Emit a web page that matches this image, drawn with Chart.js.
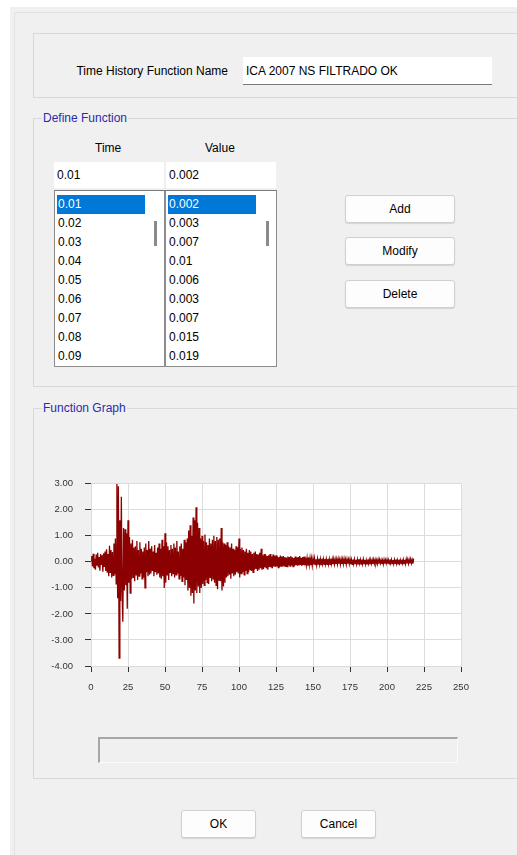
<!DOCTYPE html>
<html>
<head>
<meta charset="utf-8">
<script src="https://cdn.jsdelivr.net/npm/chart.js@4.4.1/dist/chart.umd.min.js"></script>
<style>
  body { margin: 0; background: #fff; font-family: "Liberation Sans", Arial, sans-serif; font-size: 12px; color: #000; }
  .abs { position: absolute; }
  #dlg { left: 10px; top: 7px; width: 507px; height: 848px; background: #f0f0f0; overflow: hidden; }
  #frame { left: 14px; top: 12px; right: 0; bottom: 0; border-left: 1px solid #e2e2e2; border-top: 1px solid #e2e2e2; }
  .grp { border: 1px solid #d9d9d9; }
  .grp-title { color: #2b2bb0; background: #f0f0f0; padding: 0 1px; line-height: 14px; }
  .edit { background: #fff; line-height: 26px; padding-left: 3px; box-sizing: border-box; }
  .list { background: #fff; border: 1px solid #8c8c8c; border-top-color: #7a7a7a; box-sizing: border-box; }
  .row { left: 2px; height: 19px; line-height: 19px; padding-left: 1px; }
  .sel { background: #0078d7; color: #fff; }
  .thumb { width: 3px; height: 25px; background: #8a8a8a; }
  .btn { background: #fdfdfd; border: 1px solid #d0d0d0; border-radius: 3px; box-shadow: 0 1px 1px rgba(0,0,0,0.12); text-align: center; box-sizing: border-box; }
</style>
</head>
<body>
<div id="dlg" class="abs"></div>
<div id="frame" class="abs"></div>

<!-- name -->
<div class="abs grp" style="left:33px;top:33px;width:500px;height:63px;"></div>
<div class="abs" style="left:60px;top:64px;width:168px;text-align:right;">Time History Function Name</div>
<div class="abs edit" style="left:243px;top:57px;width:249px;height:28px;line-height:28px;border-bottom:1px solid #7a7a7a;">ICA 2007 NS FILTRADO OK</div>

<!-- define function -->
<div class="abs grp" style="left:33px;top:118px;width:500px;height:267px;"></div>
<div class="abs grp-title" style="left:42px;top:111px;">Define Function</div>
<div class="abs" style="left:95px;top:141px;">Time</div>
<div class="abs" style="left:205px;top:141px;">Value</div>
<div class="abs edit" style="left:54px;top:162px;width:110px;height:26px;">0.01</div>
<div class="abs edit" style="left:166px;top:162px;width:110px;height:26px;">0.002</div>
<div id="listT" class="abs list" style="left:54px;top:190px;width:111px;height:177px;overflow:hidden;"></div>
<div id="listV" class="abs list" style="left:165px;top:190px;width:112px;height:177px;overflow:hidden;"></div>
<div class="abs btn" style="left:345px;top:195px;width:110px;height:28px;line-height:26px;">Add</div>
<div class="abs btn" style="left:345px;top:237px;width:110px;height:28px;line-height:26px;">Modify</div>
<div class="abs btn" style="left:345px;top:280px;width:110px;height:28px;line-height:26px;">Delete</div>

<!-- function graph -->
<div class="abs grp" style="left:33px;top:408px;width:500px;height:369px;"></div>
<div class="abs grp-title" style="left:42px;top:401px;">Function Graph</div>
<canvas id="fnChart" class="abs" style="left:40px;top:466px;" width="440" height="234"></canvas>
<div class="abs" style="left:98px;top:737px;width:360px;height:26px;box-sizing:border-box;border-top:2px solid #a6a6a6;border-left:2px solid #a6a6a6;border-bottom:1px solid #fafafa;border-right:1px solid #fafafa;"></div>

<div class="abs btn" style="left:181px;top:810px;width:75px;height:28px;line-height:26px;">OK</div>
<div class="abs btn" style="left:301px;top:810px;width:75px;height:28px;line-height:26px;">Cancel</div>

<script>
// lista visible del dialogo
const listTimes = ['0.01', '0.02', '0.03', '0.04', '0.05', '0.06', '0.07', '0.08', '0.09'];
const listValues = ['0.002', '0.003', '0.007', '0.01', '0.006', '0.003', '0.007', '0.015', '0.019'];

// acelerograma, paso de 0.5 s
const DT = 0.5;
const accel = [
    0.05, 0.22, -0.18, 0.31, -0.25, 0.12, -0.30, 0.28, -0.15, 0.35, -0.22, 0.18, -0.34, 0.30, -0.12, 0.25, -0.38, 0.33, -0.20, 0.40,
    -0.35, 0.48, -0.42, 0.30, -0.55, 0.62, -0.40, 0.45, -0.60, 0.38, -0.52, 0.70, -0.48, 0.90, -0.85, 3.00, -1.40, 2.90, -3.70, 1.60,
    -1.50, 2.50, -1.20, -2.30, 1.30, -1.10, 1.25, -0.90, 1.10, -1.80, 1.60, -0.80, 0.95, -1.20, 0.70, -0.65, 0.85, -0.60, 0.55, -0.75,
    0.60, -0.50, 0.80, -0.70, 0.45, -0.55, 0.75, -0.45, 0.50, -0.65, 0.40, -0.60, 0.55, -1.00, 0.70, -0.40, 0.45, -0.55, 0.80, -0.50,
    0.50, -0.45, 0.60, -0.35, 0.40, -0.55, 0.65, -0.40, 0.35, -0.50, 0.55, -0.45, 0.70, -0.60, 0.50, -0.65, 0.85, -0.55, 0.60, -1.00,
    1.10, -0.80, 0.75, -0.50, 0.60, -0.70, 0.45, -0.40, 0.65, -0.55, 0.50, -0.45, 0.70, -0.60, 0.55, -0.50, 0.80, -0.45, 0.40, -0.65,
    0.60, -0.55, 0.70, -0.75, 0.50, -0.60, 0.85, -0.90, 0.75, -0.70, 0.90, -1.10, 1.20, -1.00, 1.40, -1.30, 1.00, -1.20, 1.70, -1.60,
    1.60, -1.10, 2.10, -1.20, 1.50, -0.95, 1.30, -1.20, 0.90, -1.00, 1.00, -0.85, 0.80, -0.90, 1.05, -0.70, 0.75, -0.80, 0.65, -0.85,
    0.90, -0.60, 0.70, -0.75, 0.85, -0.65, 1.00, -0.80, 0.80, -0.90, 0.95, -1.05, 0.85, -0.70, 0.90, -0.75, 1.30, -1.10, 0.75, -0.95,
    0.70, -0.80, 0.65, -0.60, 0.75, -0.55, 0.60, -0.50, 0.55, -0.65, 0.70, -0.45, 0.50, -0.55, 0.45, -0.50, 0.60, -0.40, 0.55, -0.45,
    0.90, -0.60, 0.50, -0.45, 0.55, -0.40, 0.45, -0.50, 0.40, -0.35, 0.50, -0.45, 0.35, -0.40, 0.45, -0.30, 0.40, -0.35, 0.30, -0.40,
    0.35, -0.30, 0.40, -0.25, 0.30, -0.35, 0.28, -0.30, 0.35, -0.25, 0.50, -0.30, 0.25, -0.28, 0.30, -0.22, 0.28, -0.25, 0.22, -0.30,
    0.25, -0.20, 0.30, -0.22, 0.20, -0.25, 0.28, -0.18, 0.22, -0.20, 0.25, -0.18, 0.20, -0.22, 0.18, -0.20, 0.24, -0.16, 0.20, -0.18,
    0.22, -0.15, 0.18, -0.20, 0.16, -0.18, 0.20, -0.14, 0.18, -0.16, 0.22, -0.14, 0.17, -0.18, 0.15, -0.16, 0.20, -0.13, 0.16, -0.15,
    0.18, -0.14, 0.22, -0.12, 0.15, -0.16, 0.18, -0.12, 0.20, -0.14, 0.16, -0.12, 0.14, -0.15, 0.17, -0.11, 0.14, -0.13, 0.12, -0.14,
    0.12, -0.10, 0.13, -0.11, 0.10, -0.12, 0.11, -0.09, 0.12, -0.10, 0.10, -0.11, 0.12, -0.08, 0.10, -0.10, 0.11, -0.09, 0.10, -0.10,
    0.11, -0.09, 0.10, -0.10, 0.12, -0.08, 0.10, -0.09, 0.11, -0.10, 0.09, -0.08, 0.10, -0.09, 0.11, -0.07, 0.09, -0.10, 0.10, -0.08,
    0.10, -0.09, 0.11, -0.08, 0.09, -0.10, 0.10, -0.07, 0.09, -0.08, 0.10, -0.09, 0.08, -0.10, 0.09, -0.08, 0.10, -0.07, 0.08, -0.09,
    0.09, -0.08, 0.10, -0.07, 0.08, -0.09, 0.09, -0.08, 0.10, -0.07, 0.08, -0.09, 0.07, -0.08, 0.09, -0.07, 0.08, -0.10, 0.08, -0.07,
    0.07, -0.08, 0.09, -0.07, 0.08, -0.06, 0.07, -0.08, 0.09, -0.07, 0.08, -0.06, 0.07, -0.08, 0.06, -0.09, 0.08, -0.07, 0.07, -0.06,
    0.08, -0.07, 0.07, -0.08, 0.09, -0.06, 0.08, -0.07, 0.07, -0.08, 0.08, -0.06, 0.09, -0.07, 0.07, -0.08, 0.08, -0.06, 0.07, -0.07,
    0.08, -0.06, 0.09, -0.07, 0.08, -0.08, 0.10, -0.06, 0.09, -0.07, 0.08, -0.06, 0.10, -0.05, 0.08, -0.07, 0.12
];
const xTicks = [0, 25, 50, 75, 100, 125, 150, 175, 200, 225, 250];
const yTicks = [-4, -3, -2, -1, 0, 1, 2, 3];

function fillList(id, items) {
    const box = document.getElementById(id);
    items.forEach((txt, i) => {
        const r = document.createElement('div');
        r.className = 'abs row' + (i === 0 ? ' sel' : '');
        r.style.top = (4 + i * 19) + 'px';
        r.style.width = (i === 0 ? 87 : 85) + 'px';
        r.textContent = txt;
        box.appendChild(r);
    });
    const th = document.createElement('div');
    th.className = 'abs thumb';
    th.style.left = (box.clientWidth - 10) + 'px';
    th.style.top = '30px';
    box.appendChild(th);
}
fillList('listT', listTimes);
fillList('listV', listValues);

const plotBg = {
    id: 'plotBg',
    beforeDraw(chart) {
        const a = chart.chartArea, c = chart.ctx;
        c.save();
        c.fillStyle = '#fff';
        c.fillRect(a.left, a.top, a.right - a.left, a.bottom - a.top);
        c.restore();
    }
};

try {
    new Chart(document.getElementById('fnChart'), {
        type: 'line',
        data: {
            datasets: [{
                data: accel.map((v, i) => ({ x: i * DT, y: v })),
                borderColor: '#8b0000',
                borderWidth: 1.3,
                pointRadius: 0,
                tension: 0
            }]
        },
        options: {
            responsive: false,
            animation: false,
            events: [],
            layout: { padding: { top: 8, right: 19, left: 0, bottom: 0 } },
            plugins: { legend: { display: false }, tooltip: { enabled: false } },
            scales: {
                x: {
                    type: 'linear',
                    min: 0, max: 250,
                    afterBuildTicks: s => { s.ticks = xTicks.map(v => ({ value: v })); },
                    afterFit: s => { s.height = 34; },
                    grid: { color: '#dcdcdc', tickColor: '#333', tickLength: 6 },
                    border: { color: '#dcdcdc' },
                    ticks: { padding: 10, color: '#333', font: { family: 'Liberation Sans', size: 9.5 }, maxRotation: 0 }
                },
                y: {
                    min: -4, max: 3,
                    afterBuildTicks: s => { s.ticks = yTicks.map(v => ({ value: v })); },
                    afterFit: s => { s.width = 51; },
                    grid: { color: '#dcdcdc', tickColor: '#333', tickLength: 6 },
                    border: { color: '#dcdcdc' },
                    ticks: { padding: 12, color: '#333', font: { family: 'Liberation Sans', size: 9.5 }, callback: v => v.toFixed(2) }
                }
            }
        },
        plugins: [plotBg]
    });
} catch (e) {
    console.error('Chart render error', e);
}
</script>
</body>
</html>
